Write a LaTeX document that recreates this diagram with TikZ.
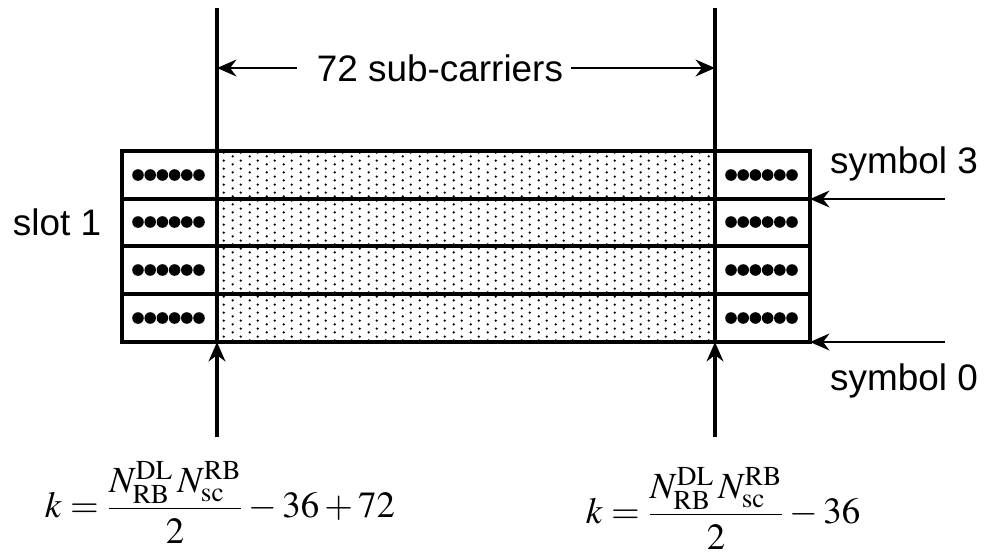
\documentclass[tikz,border=0pt]{standalone}
\usepackage{mathptmx}
\usepackage[no-math]{fontspec}
\setmainfont{Liberation Sans}
\usetikzlibrary{positioning, arrows.meta, patterns}

% fine staggered dots for the 72 sub-carriers
\pgfdeclarepatternformonly{scdots}{\pgfpointorigin}{\pgfqpoint{9.4pt}{4.7pt}}{\pgfqpoint{9.4pt}{4.7pt}}{
  \pgfpathcircle{\pgfqpoint{1pt}{1pt}}{0.75pt}
  \pgfpathcircle{\pgfqpoint{5.7pt}{3.35pt}}{0.75pt}
  \pgfusepath{fill}}

\tikzset{
  gridline/.style={line width=2pt},
  bigarrow/.style={-{Stealth[length=11pt, width=9.5pt]}, line width=1.6pt},
  lbl/.style={font=\fontsize{21}{24}\selectfont, inner sep=2pt},
  formula/.style={font=\fontsize{21}{24}\selectfont, inner sep=0pt},
  bigdot/.style={circle, fill, inner sep=0pt, minimum size=6.6pt}
}

\begin{document}
\begin{tikzpicture}[x=0.02cm, y=-0.02cm]
  \useasboundingbox (0,0) rectangle (991,556);

  % carriers band
  \fill[pattern=scdots] (217,151) rectangle (715,342);
  \draw[gridline] (122,151) rectangle (810,342);
  \foreach \y in {199,246,294}
    \draw[gridline] (122,\y) -- (810,\y);

  % six dots per symbol on each side
  \foreach \y [count=\r] in {175,222,270,318} {
    \foreach \i in {0,...,5} {
      \node[bigdot] (l\r\i) at (138+12.2*\i,\y) {};
      \node[bigdot] (r\r\i) at (731+12.2*\i,\y) {};
    }
  }

  \coordinate (lt) at (217,8);
  \coordinate (lb) at (217,342);
  \coordinate (lo) at (217,437);
  \coordinate (rt) at (715,8);
  \coordinate (rb) at (715,342);
  \coordinate (ro) at (715,437);
  \draw[gridline] (lt) -- (lb);
  \draw[gridline] (rt) -- (rb);
  \draw[bigarrow, line width=2pt] (lo) -- (lb);
  \draw[bigarrow, line width=2pt] (ro) -- (rb);

  \node[lbl] (sc) at (440,68) {72 sub-carriers};
  \draw[bigarrow] (sc.west) ++(-16,0) coordinate (scw) -- (217,68);
  \draw[bigarrow] (sc.east) ++(4,0) coordinate (sce) -- (715,68);

  \node[lbl] (slot) at (57,222) {slot 1};
  \node[lbl] (s3) at (904,164) {symbol 3};
  \node[lbl] (s0) at (904,381) {symbol 0};
  \coordinate (s3in) at (945,199);
  \coordinate (s3at) at (810,199);
  \coordinate (s0in) at (945,342);
  \coordinate (s0at) at (810,342);
  \draw[bigarrow] (s3in) -- (s3at);
  \draw[bigarrow] (s0in) -- (s0at);

  \node[formula] (kl) at (220,502)
    {$\displaystyle k=\frac{N_{\mathrm{RB}}^{\mathrm{DL}}\,N_{\mathrm{sc}}^{\mathrm{RB}}}{2}-36+72$};
  \node[formula] (kr) at (723,508)
    {$\displaystyle k=\frac{N_{\mathrm{RB}}^{\mathrm{DL}}\,N_{\mathrm{sc}}^{\mathrm{RB}}}{2}-36$};
\end{tikzpicture}
\end{document}
